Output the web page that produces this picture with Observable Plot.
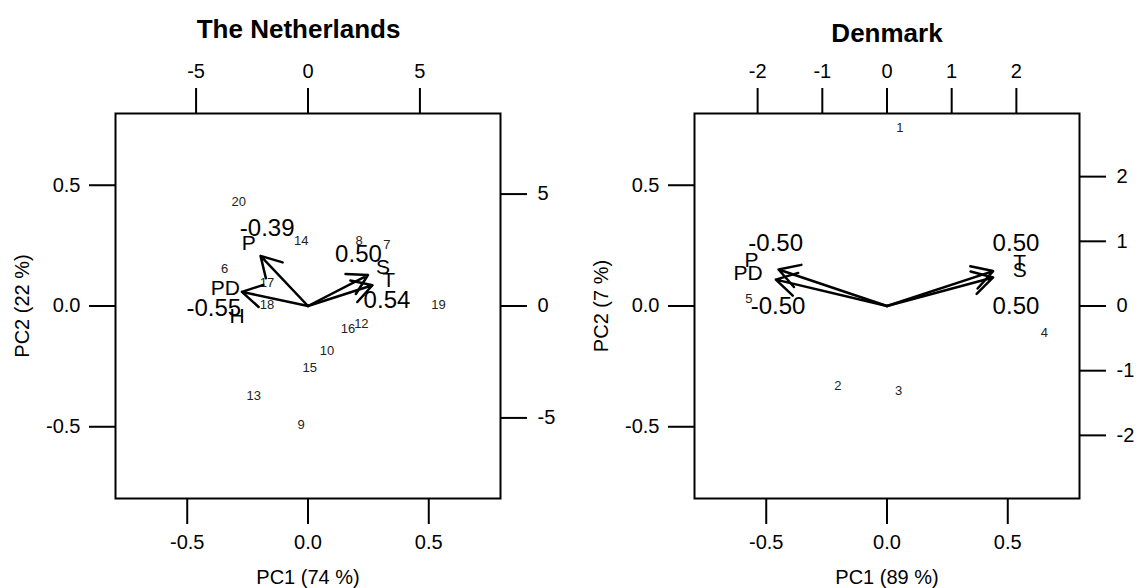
<!DOCTYPE html>
<html><head><meta charset="utf-8">
<script src="https://cdn.jsdelivr.net/npm/d3@7"></script>
<script src="https://cdn.jsdelivr.net/npm/@observablehq/plot@0.6"></script>
<style>
body{margin:0;background:#fff;}
#wrap{display:flex;width:1136px;height:588px;overflow:hidden;}
</style></head><body><div id="wrap"></div>
<script>
// ---------- The Netherlands ----------
const nlTitle = "The Netherlands";
const nlXLabel = "PC1 (74 %)";
const nlYLabel = "PC2 (22 %)";
const nlObs = ["20","14","8","7","6","17","18","19","16","12","10","15","13","9"];
const nlObsPC1 = [-0.287,-0.028,0.212,0.327,-0.345,-0.170,-0.170,0.540,0.166,0.221,0.079,0.007,-0.225,-0.029];
const nlObsPC2 = [0.431,0.269,0.269,0.252,0.152,0.096,0.004,0.004,-0.095,-0.072,-0.185,-0.258,-0.371,-0.493];
const nlVars = ["P","PD","H","S","T"];
const nlVarPC1 = [-2.65,-3.69,-3.17,3.35,3.60];
const nlVarPC2 = [2.80,0.79,-0.48,1.73,1.16];
const nlVarArrow = [true,true,false,true,true];
const nlCorr = ["-0.39","0.50","-0.55","0.54"];
const nlCorrPC1 = [-0.169,0.209,-0.390,0.327];
const nlCorrPC2 = [0.321,0.215,-0.010,0.022];
const nlTicks = [-0.5,0,0.5];
const nlVarTicks = [-5,0,5];
const nlVarRatio = 10.79;

// ---------- Denmark ----------
const dkTitle = "Denmark";
const dkXLabel = "PC1 (89 %)";
const dkYLabel = "PC2 (7 %)";
const dkObs = ["1","2","3","4","5"];
const dkObsPC1 = [0.053,-0.203,0.048,0.651,-0.572];
const dkObsPC2 = [0.738,-0.331,-0.352,-0.112,0.031];
const dkVars = ["P","PD","T","S"];
const dkVarPC1 = [-2.096,-2.148,2.051,2.051];
const dkVarPC2 = [0.706,0.510,0.675,0.552];
const dkVarArrow = [true,true,true,true];
const dkCorr = ["-0.50","-0.50","0.50","0.50"];
const dkCorrPC1 = [-0.461,-0.451,0.534,0.534];
const dkCorrPC2 = [0.258,-0.001,0.260,-0.001];
const dkTicks = [-0.5,0,0.5];
const dkVarTicks = [-2,-1,0,1,2];
const dkVarRatio = 3.734;

const FONT = '"Liberation Sans", Arial, Helvetica, sans-serif';

function panel(o) {
  const dom = [-0.797, 0.797];
  const obs = o.obs.map((t,i)=>({t, x:o.obsX[i], y:o.obsY[i]}));
  const vars = o.vars.map((t,i)=>({t, x:o.varX[i]/o.k, y:o.varY[i]/o.k, arrow:o.arrow[i]}));
  const corr = o.corr.map((t,i)=>({t, x:o.corrX[i], y:o.corrY[i]}));
  const fmt1 = d => d.toFixed(1);
  const fmtK = d => String(Math.round(d*o.k));
  const sec = o.secTicks.map(v=>v/o.k);
  return Plot.plot({
    width:568, height:588,
    marginLeft:o.ml, marginRight:o.mr, marginTop:113, marginBottom:90,
    x:{domain:dom}, y:{domain:dom},
    style:{fontFamily:FONT, fontSize:"20px", color:"#000", background:"#fff", overflow:"visible"},
    marks:[
      Plot.frame({stroke:"#000", strokeWidth:2}),
      Plot.axisX({anchor:"bottom", ticks:o.ticks, tickFormat:fmt1, tickSize:26, tickPadding:10, strokeWidth:2, label:null, fontSize:20}),
      Plot.axisY({anchor:"left", ticks:o.ticks, tickFormat:fmt1, tickSize:26, tickPadding:9, strokeWidth:2, label:null, fontSize:20}),
      Plot.axisX({anchor:"top", ticks:sec, tickFormat:fmtK, tickSize:26, tickPadding:10, strokeWidth:2, label:null, fontSize:20}),
      Plot.axisY({anchor:"right", ticks:sec, tickFormat:fmtK, tickSize:26, tickPadding:11, strokeWidth:2, label:null, fontSize:20}),
      Plot.text(obs, {x:"x", y:"y", text:"t", fontSize:13, fill:"#222"}),
      Plot.arrow(vars.filter(d=>d.arrow), {x1:()=>0, y1:()=>0, x2:d=>0.8*d.x, y2:d=>0.8*d.y, stroke:"#000", strokeWidth:2.5, headLength:14, headAngle:60}),
      Plot.text(vars, {x:"x", y:"y", text:"t", fontSize:21}),
      Plot.text(corr, {x:"x", y:"y", text:"t", fontSize:24}),
      Plot.text([o.title], {x:()=>o.titleX, frameAnchor:"top", lineAnchor:"middle", textAnchor:"middle", dy:o.titleDy, text:d=>d, fontWeight:"bold", fontSize:26}),
      Plot.text([o.xlab], {x:()=>0, frameAnchor:"bottom", lineAnchor:"middle", textAnchor:"middle", dy:79, text:d=>d, fontSize:20}),
      Plot.text([o.ylab], {y:()=>0, frameAnchor:"left", lineAnchor:"middle", textAnchor:"middle", dx:-93, rotate:-90, text:d=>d, fontSize:20})
    ]
  });
}

const wrap = document.getElementById("wrap");
wrap.appendChild(panel({
  title:nlTitle, titleX:-0.039, titleDy:-84, xlab:nlXLabel, ylab:nlYLabel,
  obs:nlObs, obsX:nlObsPC1, obsY:nlObsPC2,
  vars:nlVars, varX:nlVarPC1, varY:nlVarPC2, arrow:nlVarArrow,
  corr:nlCorr, corrX:nlCorrPC1, corrY:nlCorrPC2,
  ticks:nlTicks, secTicks:nlVarTicks, k:nlVarRatio, ml:115, mr:68
}));
wrap.appendChild(panel({
  title:dkTitle, titleX:0, titleDy:-80, xlab:dkXLabel, ylab:dkYLabel,
  obs:dkObs, obsX:dkObsPC1, obsY:dkObsPC2,
  vars:dkVars, varX:dkVarPC1, varY:dkVarPC2, arrow:dkVarArrow,
  corr:dkCorr, corrX:dkCorrPC1, corrY:dkCorrPC2,
  ticks:dkTicks, secTicks:dkVarTicks, k:dkVarRatio, ml:126, mr:57
}));
</script></body></html>
